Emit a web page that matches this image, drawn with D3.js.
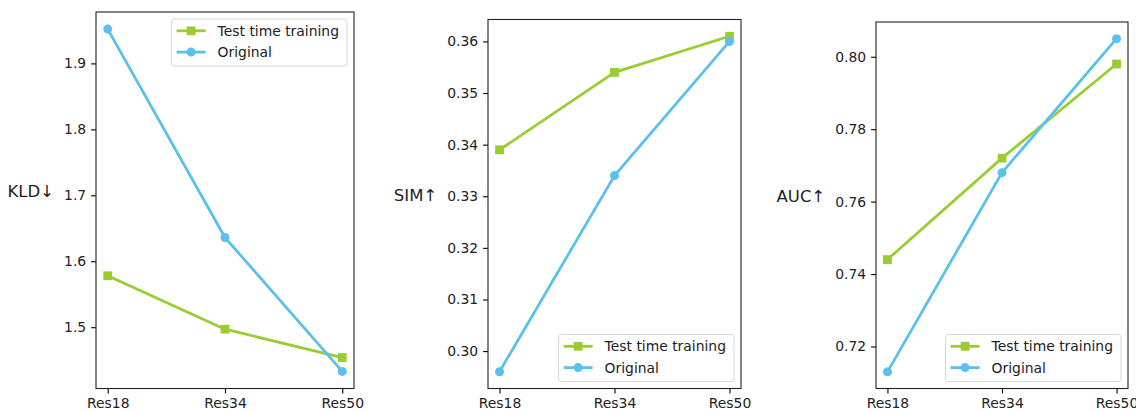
<!DOCTYPE html>
<html>
<head>
<meta charset="utf-8">
<script src="https://cdn.jsdelivr.net/npm/d3@7"></script>
<style>
  html, body { margin: 0; padding: 0; background: #fff; }
  svg { display: block; }
  text { font-family: "DejaVu Sans", sans-serif; }
</style>
</head>
<body>
<svg id="chart" width="1136" height="412"></svg>
<script>
// ---- data ----
const categories = ["Res18", "Res34", "Res50"];
const seriesNames = ["Test time training", "Original"];

const kldTTT = [1.578, 1.497, 1.454];
const kldOriginal = [1.952, 1.636, 1.433];
const simTTT = [0.339, 0.354, 0.361];
const simOriginal = [0.296, 0.334, 0.360];
const aucTTT = [0.744, 0.772, 0.798];
const aucOriginal = [0.713, 0.768, 0.805];

const kldTicks = [1.5, 1.6, 1.7, 1.8, 1.9];
const simTicks = [0.30, 0.31, 0.32, 0.33, 0.34, 0.35, 0.36];
const aucTicks = [0.72, 0.74, 0.76, 0.78, 0.80];

const yLabels = ["KLD\u2193", "SIM\u2191", "AUC\u2191"];

// ---- style / layout ----
const GREEN = "#9acd32";
const BLUE = "#5bc0eb";
const FONT = 13.9;
const LABEL_FONT = 16.5;
const LW = 2.8;

const panels = [
  { label: yLabels[0], ttt: kldTTT, orig: kldOriginal, ticks: kldTicks, fmt: ".1f",
    frame: { left: 96, right: 354, top: 12, bottom: 388.5 }, legend: "upper" },
  { label: yLabels[1], ttt: simTTT, orig: simOriginal, ticks: simTicks, fmt: ".2f",
    frame: { left: 488, right: 741, top: 19.5, bottom: 388.5 }, legend: "lower" },
  { label: yLabels[2], ttt: aucTTT, orig: aucOriginal, ticks: aucTicks, fmt: ".2f",
    frame: { left: 876, right: 1128, top: 22, bottom: 388.5 }, legend: "lower" }
];

const svg = d3.select("#chart");

panels.forEach(p => {
  const f = p.frame;
  const all = p.ttt.concat(p.orig);
  const mn = d3.min(all), mx = d3.max(all), r = mx - mn;
  const y = d3.scaleLinear().domain([mn - 0.05 * r, mx + 0.05 * r]).range([f.bottom, f.top]);
  const x = d3.scaleLinear().domain([-0.1, categories.length - 1 + 0.1]).range([f.left, f.right]);

  const g = svg.append("g");

  // axes
  const xAxis = d3.axisBottom(x)
    .tickValues(categories.map((d, i) => i))
    .tickFormat(i => categories[i])
    .tickSize(4.9).tickPadding(4.9);
  const gx = g.append("g").attr("transform", `translate(0,${f.bottom})`).call(xAxis);
  const yAxis = d3.axisLeft(y).tickValues(p.ticks).tickFormat(d3.format(p.fmt))
    .tickSize(4.9).tickPadding(4.9);
  const gy = g.append("g").attr("transform", `translate(${f.left},0)`).call(yAxis);
  [gx, gy].forEach(a => {
    a.select(".domain").remove();
    a.selectAll(".tick line").attr("stroke", "#000").attr("stroke-width", 1.1);
    a.selectAll(".tick text").attr("font-size", FONT).attr("fill", "#222")
      .attr("font-family", "DejaVu Sans, sans-serif");
  });

  // frame
  g.append("rect").attr("x", f.left).attr("y", f.top)
    .attr("width", f.right - f.left).attr("height", f.bottom - f.top)
    .attr("fill", "none").attr("stroke", "#222").attr("stroke-width", 1.1);

  // y label (horizontal)
  let minLeft = Infinity;
  gy.selectAll(".tick text").each(function() {
    minLeft = Math.min(minLeft, f.left - 4.9 - 4.9 - this.getComputedTextLength());
  });
  g.append("text")
    .attr("x", minLeft - 10)
    .attr("y", (f.top + f.bottom) / 2 - 3.5)
    .attr("text-anchor", "end")
    .attr("font-size", LABEL_FONT)
    .attr("fill", "#222")
    .text(p.label);

  // lines
  const line = d3.line().x((d, i) => x(i)).y(d => y(d));
  g.append("path").datum(p.ttt).attr("d", line).attr("fill", "none")
    .attr("stroke", GREEN).attr("stroke-width", LW).attr("stroke-linejoin", "round");
  const ms = 8.8;
  g.selectAll(".sq").data(p.ttt).enter().append("rect")
    .attr("x", (d, i) => x(i) - ms / 2).attr("y", d => y(d) - ms / 2)
    .attr("width", ms).attr("height", ms).attr("fill", GREEN);

  g.append("path").datum(p.orig).attr("d", line).attr("fill", "none")
    .attr("stroke", BLUE).attr("stroke-width", LW).attr("stroke-linejoin", "round");
  g.selectAll(".ci").data(p.orig).enter().append("circle")
    .attr("cx", (d, i) => x(i)).attr("cy", d => y(d)).attr("r", 4.5).attr("fill", BLUE);

  // legend
  const lg = g.append("g");
  const tmp = lg.append("text").attr("font-size", FONT).text(seriesNames[0]);
  const tw = tmp.node().getComputedTextLength();
  tmp.remove();
  const textOff = 46;
  const boxW = textOff + tw + 8;
  const boxH = 47;
  const bx = f.right - 7 - boxW;
  const by = p.legend === "upper" ? f.top + 7 : f.bottom - 7 - boxH;
  lg.append("rect").attr("x", bx).attr("y", by).attr("width", boxW).attr("height", boxH)
    .attr("rx", 3).attr("fill", "#fff").attr("fill-opacity", 0.8)
    .attr("stroke", "#d6d6d6").attr("stroke-width", 1);
  const rows = [
    { name: seriesNames[0], color: GREEN, shape: "square" },
    { name: seriesNames[1], color: BLUE, shape: "circle" }
  ];
  rows.forEach((rw, k) => {
    const cy = by + 11.8 + k * 21.3;
    const x0 = bx + 5, x1 = bx + 34;
    lg.append("line").attr("x1", x0).attr("x2", x1).attr("y1", cy).attr("y2", cy)
      .attr("stroke", rw.color).attr("stroke-width", LW);
    const mx2 = (x0 + x1) / 2;
    if (rw.shape === "square") {
      lg.append("rect").attr("x", mx2 - ms / 2).attr("y", cy - ms / 2)
        .attr("width", ms).attr("height", ms).attr("fill", rw.color);
    } else {
      lg.append("circle").attr("cx", mx2).attr("cy", cy).attr("r", 4.5).attr("fill", rw.color);
    }
    lg.append("text").attr("x", bx + textOff).attr("y", cy + 5)
      .attr("font-size", FONT).attr("fill", "#222").text(rw.name);
  });
});
</script>
</body>
</html>
